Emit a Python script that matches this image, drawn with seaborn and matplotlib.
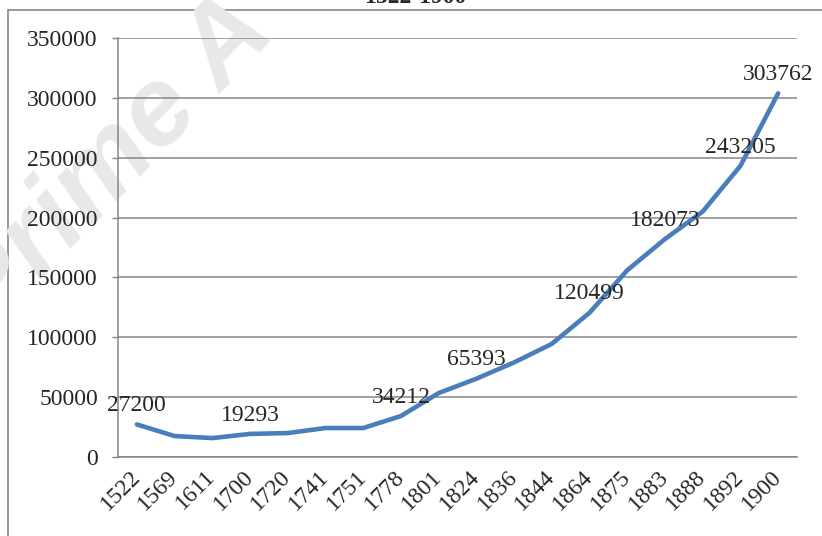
import numpy as np
import pandas as pd
import matplotlib
matplotlib.use("Agg")
import matplotlib.pyplot as plt
import seaborn as sns
from matplotlib.patches import Rectangle

years = ['1522', '1569', '1611', '1700', '1720', '1741', '1751', '1778', '1801',
         '1824', '1836', '1844', '1864', '1875', '1883', '1888', '1892', '1900']
population = [27200, 17500, 15800, 19293, 20000, 24200, 24200, 34212, 53400,
              65393, 79000, 94500, 120499, 156000, 182073, 205000, 243205, 303762]
labelled = ['1522', '1700', '1778', '1824', '1864', '1883', '1892', '1900']
y_ticks = [0, 50000, 100000, 150000, 200000, 250000, 300000, 350000]

df = pd.DataFrame({"pos": np.arange(len(years)), "Year": years, "Population": population})

sns.set_style("white")
plt.rcParams['font.family'] = ['Liberation Serif', 'DejaVu Serif']

grey = "#868686"
fs = 17
fig = plt.figure(figsize=(8.22, 5.36), dpi=100)
ax = fig.add_axes([118 / 822, 1 - 457 / 536, (797 - 118) / 822, (457 - 38) / 536])
ax.set_facecolor("none")

# faint watermark behind the chart
fig.text(112 / 822, 1 - 165 / 536, "Prime A", fontsize=80, fontweight="bold",
         fontstyle="italic", color="#e8e8e8", rotation=46, ha="center", va="center",
         family=["Liberation Sans", "DejaVu Sans"], zorder=-1)

# outer chart frame (only left and top edges fall inside the picture)
fig.patches.append(Rectangle((8 / 822, -0.2), 1.0, 1.2 - 10 / 536, transform=fig.transFigure,
                             fill=False, edgecolor=grey, lw=1.2, zorder=-2))

# title, mostly cut off at the top
fig.text(415 / 822, 1 - 3 / 536, "1522-1900", fontsize=17, fontweight="bold",
         ha="center", va="baseline")

sns.lineplot(data=df, x="pos", y="Population", ax=ax, color="#4A7EBB", lw=3.3,
             solid_joinstyle="round", solid_capstyle="round", zorder=3)

for p, yr, v in zip(df["pos"], years, population):
    if yr in labelled:
        ax.annotate(str(v), (p, v), xytext=(0, 6), textcoords="offset points",
                    ha="center", va="bottom", fontsize=fs, zorder=4)

ax.set_xlim(-0.5, len(years) - 0.5)
ax.set_ylim(0, 350000)
ax.set_yticks(y_ticks)
ax.set_yticklabels([str(t) for t in y_ticks], fontsize=fs)
ax.set_xticks(df["pos"])
ax.set_xticklabels(years, fontsize=fs, rotation=45, ha="right", va="center",
                   rotation_mode="anchor")
ax.set_xticks(np.arange(len(years) + 1) - 0.5, minor=True)
ax.tick_params(axis="x", which="major", length=0, pad=12)
ax.tick_params(axis="x", which="minor", length=4.5, width=1, color=grey)
ax.tick_params(axis="y", length=4.5, width=1, color=grey, pad=10, left=True)
ax.grid(axis="y", color=grey, lw=1.1)
ax.set_axisbelow(True)
for s in ["top", "right"]:
    ax.spines[s].set_visible(False)
for s in ["left", "bottom"]:
    ax.spines[s].set_color(grey)
    ax.spines[s].set_linewidth(1.1)
ax.set_xlabel("")
ax.set_ylabel("")

fig.savefig("out.png", dpi=100)
